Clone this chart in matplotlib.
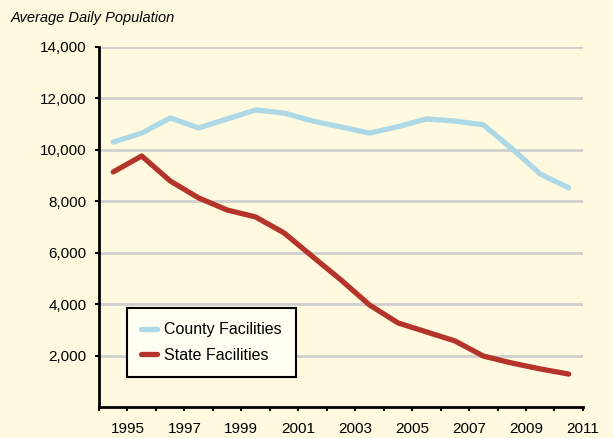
import numpy as np
import matplotlib.pyplot as plt
from matplotlib.ticker import MultipleLocator

plt.rcParams['font.family'] = ['Liberation Sans', 'DejaVu Sans']

# fiscal years, plotted mid-way between calendar year ticks
years = list(range(1995, 2012))
county = [10300, 10650, 11240, 10850, 11200, 11550, 11430, 11120, 10890,
          10650, 10900, 11200, 11120, 10970, 10050, 9060, 8520]
state = [9140, 9760, 8790, 8130, 7660, 7390, 6770, 5850, 4940,
         3970, 3270, 2920, 2570, 1980, 1710, 1480, 1280]
year_labels = list(range(1995, 2012, 2))
y_ticks = list(range(2000, 14001, 2000))

bg = '#FFFADF'
fig = plt.figure(figsize=(6.13, 4.38), dpi=100, facecolor=bg)
ax = fig.add_axes([0.1615, 0.0708, 0.7895, 0.822])
ax.set_facecolor(bg)

x = np.array(years) - 0.5

for t in y_ticks:
    ax.axhline(t, color='#CFCFCF', lw=2, zorder=1)

ax.plot(x, county, color='#ADD8E6', lw=3.8, solid_capstyle='round',
        solid_joinstyle='round', label='County Facilities', zorder=3)
ax.plot(x, state, color='#B5342A', lw=3.8, solid_capstyle='round',
        solid_joinstyle='round', label='State Facilities', zorder=3)

ax.set_xlim(1994, 2011)
ax.set_ylim(0, 14000)
ax.xaxis.set_major_locator(MultipleLocator(1))
ax.set_xticks(year_labels, [str(y) for y in year_labels])
ax.set_xticks(range(1994, 2012), minor=True)
ax.set_yticks(y_ticks, ['{:,}'.format(t) for t in y_ticks])
ax.tick_params(axis='x', which='both', length=3, width=1.5, direction='out',
               labelsize=11, pad=8)
ax.tick_params(axis='y', length=3, width=1.5, labelsize=11, pad=6)

for s in ['top', 'right']:
    ax.spines[s].set_visible(False)
for s in ['left', 'bottom']:
    ax.spines[s].set_linewidth(2)
    ax.spines[s].set_color('black')

leg = ax.legend(loc='lower left', bbox_to_anchor=(0.058, 0.083), fontsize=11.5,
                frameon=True, fancybox=False, edgecolor='black',
                facecolor='#FFFEF2', framealpha=1, handlelength=1.0,
                handletextpad=0.4, borderpad=0.9, labelspacing=0.65,
                borderaxespad=0)
leg.get_frame().set_linewidth(1.5)
leg.set_zorder(5)

fig.text(0.017, 0.958, 'Average Daily Population', fontsize=10.5,
         style='italic', ha='left', va='center')

plt.savefig('out.png', dpi=100, facecolor=bg)
